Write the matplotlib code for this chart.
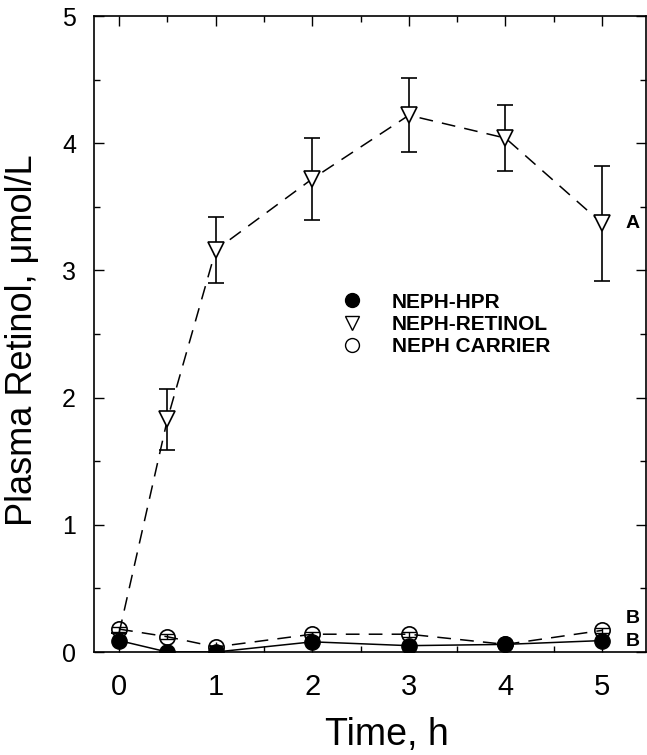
import matplotlib
matplotlib.use("Agg")
import matplotlib.pyplot as plt
from matplotlib.ticker import MultipleLocator

plt.rcParams['font.family'] = ['Liberation Sans', 'DejaVu Sans']

time = [0, 0.5, 1, 2, 3, 4, 5]
hpr = [0.09, 0.00, 0.00, 0.08, 0.05, 0.06, 0.09]
retinol = [0.15, 1.83, 3.16, 3.72, 4.22, 4.04, 3.37]
retinol_err = [0.0, 0.24, 0.26, 0.32, 0.29, 0.26, 0.45]
carrier = [0.18, 0.12, 0.04, 0.14, 0.14, 0.06, 0.17]
carrier_err = [0.02, 0.02, 0.01, 0.02, 0.02, 0.01, 0.02]

fig = plt.figure(figsize=(6.47, 7.55), dpi=100)
ax = fig.add_axes([0.1453, 0.1364, 0.8532, 0.8424])

ax.errorbar(time, retinol, yerr=retinol_err, fmt='none', ecolor='black',
            elinewidth=1.2, capsize=6, capthick=1.2, zorder=2)
ax.plot(time, retinol, linestyle=(0, (9, 6)), color='black', lw=1.1, zorder=3)
ax.plot(time[1:], retinol[1:], linestyle='none', marker='v', markersize=11,
        markerfacecolor='white', markeredgecolor='black', markeredgewidth=1.2, zorder=4)

ax.errorbar(time, carrier, yerr=carrier_err, fmt='none', ecolor='black',
            elinewidth=1.0, capsize=5, capthick=1.0, zorder=4)
ax.plot(time, carrier, linestyle=(0, (9, 6)), color='black', lw=1.1,
        marker='o', markersize=11, markerfacecolor='none', markeredgecolor='black',
        markeredgewidth=1.2, zorder=5)
ax.plot(time, hpr, linestyle='-', color='black', lw=1.1,
        marker='o', markersize=11, markerfacecolor='black', markeredgecolor='black', zorder=6)

# legend proxies
h1, = ax.plot([], [], 'o', color='black', markersize=10)
h2, = ax.plot([], [], 'v', markerfacecolor='white', markeredgecolor='black', markersize=10)
h3, = ax.plot([], [], 'o', markerfacecolor='white', markeredgecolor='black', markersize=10)
ax.legend([h1, h2, h3], ['NEPH-HPR', 'NEPH-RETINOL', 'NEPH CARRIER'],
          loc='upper left', bbox_to_anchor=(0.43, 0.578), frameon=False,
          prop={'size': 15, 'weight': 'bold'}, handletextpad=1.3,
          labelspacing=0.15, handlelength=1.2, borderaxespad=0)

ax.text(5.24, 3.37, 'A', fontsize=14, fontweight='bold', va='center', ha='left')
ax.text(5.24, 0.26, 'B', fontsize=14, fontweight='bold', va='center', ha='left')
ax.text(5.24, 0.08, 'B', fontsize=14, fontweight='bold', va='center', ha='left')

ax.set_xlim(-0.26, 5.455)
ax.set_ylim(0, 5)
ax.set_xticks([0, 1, 2, 3, 4, 5])
ax.set_yticks([0, 1, 2, 3, 4, 5])
ax.xaxis.set_minor_locator(MultipleLocator(0.5))
ax.yaxis.set_minor_locator(MultipleLocator(0.5))
ax.tick_params(which='both', direction='in', top=True, right=True)
ax.tick_params(which='major', length=7, width=1.0)
ax.tick_params(which='minor', length=4, width=1.0)
ax.tick_params(axis='x', labelsize=21, pad=15)
ax.tick_params(axis='y', labelsize=18, pad=13)
for s in ax.spines.values():
    s.set_linewidth(1.2)

ax.set_xlabel('Time, h', fontsize=27)
ax.xaxis.set_label_coords(0.53, -0.13, transform=ax.transAxes)
ax.xaxis.label.set_va('center')
ax.set_ylabel('Plasma Retinol, \u03bcmol/L', fontsize=26)
ax.yaxis.set_label_coords(-0.13, 0.49, transform=ax.transAxes)
ax.yaxis.label.set_va('center')

fig.savefig('out.png', dpi=100)
